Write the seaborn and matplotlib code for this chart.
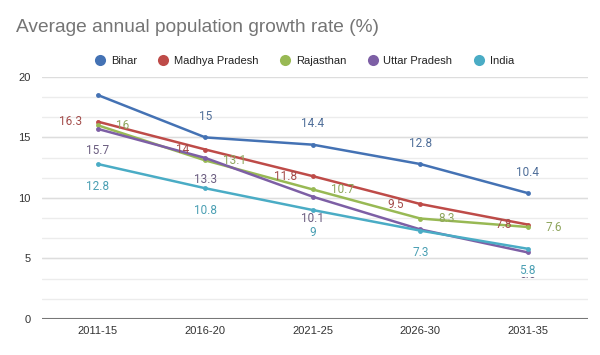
import matplotlib
matplotlib.use("Agg")
import matplotlib.pyplot as plt
from matplotlib.lines import Line2D
import pandas as pd
import seaborn as sns

periods = ["2011-15", "2016-20", "2021-25", "2026-30", "2031-35"]
states = ["Bihar", "Madhya Pradesh", "Rajasthan", "Uttar Pradesh", "India"]
bihar = [18.5, 15, 14.4, 12.8, 10.4]
madhya_pradesh = [16.3, 14, 11.8, 9.5, 7.8]
rajasthan = [16, 13.1, 10.7, 8.3, 7.6]
uttar_pradesh = [15.7, 13.3, 10.1, 7.4, 5.5]
india = [12.8, 10.8, 9, 7.3, 5.8]

colors = ["#4472b4", "#be4b48", "#98b954", "#7d5fa5", "#4aacc5"]
label_colors = ["#4f6e99", "#a34c4a", "#8ea55c", "#6b5d80", "#4a9fb3"]

values = [bihar, madhya_pradesh, rajasthan, uttar_pradesh, india]
rows = []
for s, v in zip(states, values):
    for i, p in enumerate(periods):
        rows.append({"period": p, "x": i, "state": s, "rate": v[i]})
df = pd.DataFrame(rows)

sns.set_theme(style="white")
plt.rcParams["font.family"] = ["Liberation Sans", "DejaVu Sans"]

fig = plt.figure(figsize=(6, 3.55), dpi=100)
ax = fig.add_axes([0.07, 0.1014, 0.91, 0.682])

# minor grid every 5/3, major every 5
for k in range(1, 12):
    yv = k * 5 / 3
    ax.axhline(yv, color="#ececec", lw=1, zorder=0)
for yv in [5, 10, 15, 20]:
    ax.axhline(yv, color="#dddddd", lw=1, zorder=0)
ax.axhline(0, color="#777777", lw=1.5, zorder=1)

sns.lineplot(data=df, x="x", y="rate", hue="state", palette=colors,
             hue_order=states, marker="o", markersize=3.5, markeredgewidth=0,
             linewidth=1.8, ax=ax, legend=False, zorder=3)

# label placement in pixels: (dx, dy, ha)
place = {
    "Bihar": (0, 21, "center"),
    "Madhya Pradesh": (-16, 0, "right"),
    "Rajasthan": (18, 0, "left"),
    "Uttar Pradesh": (0, -22, "center"),
    "India": (0, -22, "center"),
}
skip = {("Bihar", 0), ("Uttar Pradesh", 3)}
for s, v, lc in zip(states, values, label_colors):
    dx, dy, ha = place[s]
    for i, val in enumerate(v):
        if (s, i) in skip:
            continue
        box = None
        if s == "India" and i == 4:
            box = dict(facecolor="white", edgecolor="none", pad=0)
        ax.annotate(f"{val:g}", (i, val), xytext=(dx * 0.72, dy * 0.72),
                    textcoords="offset points", ha=ha, va="center",
                    fontsize=8.5, color=lc, zorder=5 if box else 4,
                    family=["Roboto", "DejaVu Sans"], bbox=box)

ax.set_xlim(-0.52, 4.56)
ax.set_ylim(0, 20)
ax.set_xticks(range(len(periods)))
ax.set_xticklabels(periods)
ax.set_yticks([0, 5, 10, 15, 20])
ax.tick_params(axis="both", length=0, labelsize=8, colors="#333333")
ax.tick_params(axis="x", pad=5)
ax.tick_params(axis="y", pad=8)
ax.set_xlabel("")
ax.set_ylabel("")
for sp in ax.spines.values():
    sp.set_visible(False)

fig.text(0.027, 0.922, "Average annual population growth rate (%)",
         fontsize=13.8, color="#757575", ha="left", va="center")

handles = [Line2D([0], [0], marker="o", color="none", markerfacecolor=c,
                  markeredgewidth=0, markersize=8) for c in colors]
fig.legend(handles, states, loc="center", bbox_to_anchor=(0.507, 0.828),
           ncol=5, frameon=False, fontsize=8, handletextpad=0.45,
           columnspacing=1.9, handlelength=1.0, labelcolor="#222222")

fig.savefig("out.png", dpi=100)
